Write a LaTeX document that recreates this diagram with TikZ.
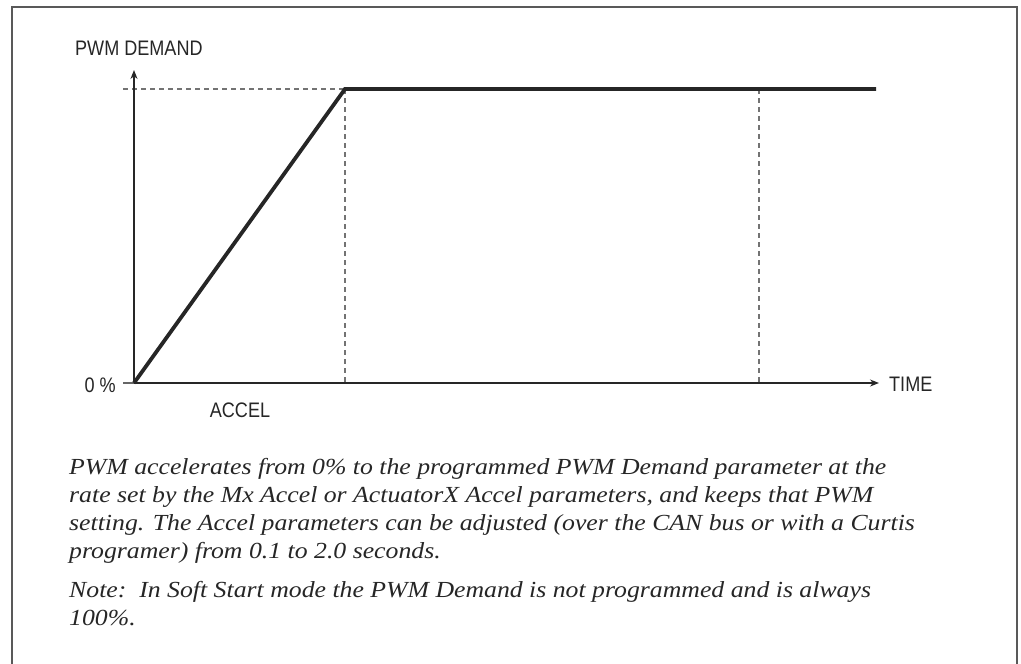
\documentclass[tikz,border=0pt]{standalone}
\usepackage{fontspec}
\setmainfont{Liberation Serif}
\newfontfamily\labelfont[FakeStretch=0.86]{Liberation Sans}
\newfontfamily\captionfont[FakeStretch=1.12]{Liberation Serif}
\usetikzlibrary{arrows.meta}
\begin{document}
\begin{tikzpicture}[x=1pt,y=-1pt,
  axis/.style={line width=1.3pt,draw=black!85,-{Stealth[length=9pt,width=7pt]}},
  guide/.style={line width=1.1pt,draw=black!55,dash pattern=on 5pt off 4pt},
  curve/.style={line width=3.8pt,draw=black!85,line join=miter},
  lbl/.style={font=\labelfont\fontsize{21}{24}\selectfont,text=black!85,inner sep=0pt},
  captxt/.style={font=\captionfont\itshape\fontsize{23}{26}\selectfont,text=black!85,inner sep=0pt,anchor=base west}]
\useasboundingbox (0,0) rectangle (1021,664);
\draw[line width=2pt,draw=black!65] (12,672) -- (12,7) -- (1017,7) -- (1017,672);
% coordinates
\coordinate (O) at (134,383);
\coordinate (Ytop) at (134,70);
\coordinate (Xstart) at (123,383);
\coordinate (Xend) at (879,383);
\coordinate (Lstart) at (123,89);
\coordinate (P1) at (345,89);
\coordinate (P2) at (759,89);
\coordinate (P3) at (876,89);
\coordinate (B1) at (345,383);
\coordinate (B2) at (759,383);
% guides
\draw[guide] (Lstart) -- (P1);
\draw[guide] (P1) -- (B1);
\draw[guide] (P2) -- (B2);
% axes
\draw[axis] (O) -- (Ytop);
\draw[line width=1.3pt,draw=black!60] (Xstart) -- (O);
\draw[axis] (O) -- (Xend);
% curve
\draw[curve] (O) -- (P1) -- (P3);
% labels
\node[lbl,anchor=base west] (ylab) at (75,55) {PWM DEMAND};
\node[lbl,anchor=base east] (zero) at (116,392) {0 \%};
\node[lbl,anchor=base] (accel) at (240,417) {ACCEL};
\node[lbl,anchor=base west] (time) at (889,391) {TIME};
% caption
\node[captxt] (c1) at (69,474) {PWM accelerates from 0\% to the programmed PWM Demand parameter at the};
\node[captxt] (c2) at (69,502) {rate set by the Mx Accel or ActuatorX Accel parameters, and keeps that PWM};
\node[captxt] (c3) at (69,530) {setting. The Accel parameters can be adjusted (over the CAN bus or with a Curtis};
\node[captxt] (c4) at (69,558) {programer) from 0.1 to 2.0 seconds.};
\node[captxt] (c5) at (69,597) {Note:\ \ In Soft Start mode the PWM Demand is not programmed and is always};
\node[captxt] (c6) at (69,625) {100\%.};
\end{tikzpicture}
\end{document}
